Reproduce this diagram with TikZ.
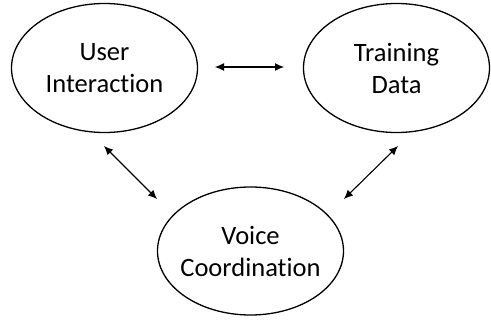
\documentclass[tikz,border=0pt]{standalone}
\usepackage{fontspec}
\setmainfont[Ligatures=NoCommon]{Carlito}
\usetikzlibrary{arrows.meta,shapes.geometric}
\begin{document}
\begin{tikzpicture}[x=1pt,y=-1pt,
  oval/.style={draw,line width=1.3pt,ellipse,minimum width=186pt,minimum height=129pt,align=center,font=\fontsize{26.5}{32}\selectfont,inner sep=-40pt},
  link/.style={line width=1.1pt,{Latex[length=9pt,width=8pt]}-{Latex[length=9pt,width=8pt]}}]
\useasboundingbox (0,0) rectangle (491,321);
\node[oval] (ui) at (104.5,68) {User\\Interaction};
\node[oval] (td) at (396.5,68) {Training\\Data};
\node[oval,minimum height=128pt] (vc) at (250.5,251) {Voice\\Coordination};
\coordinate (a1) at (215,67);
\coordinate (a2) at (284,67);
\coordinate (b1) at (104,146);
\coordinate (b2) at (157,199);
\coordinate (c1) at (398,146);
\coordinate (c2) at (344,199);
\draw[link] (a1) -- (a2);
\draw[link] (b1) -- (b2);
\draw[link] (c1) -- (c2);
\end{tikzpicture}
\end{document}
